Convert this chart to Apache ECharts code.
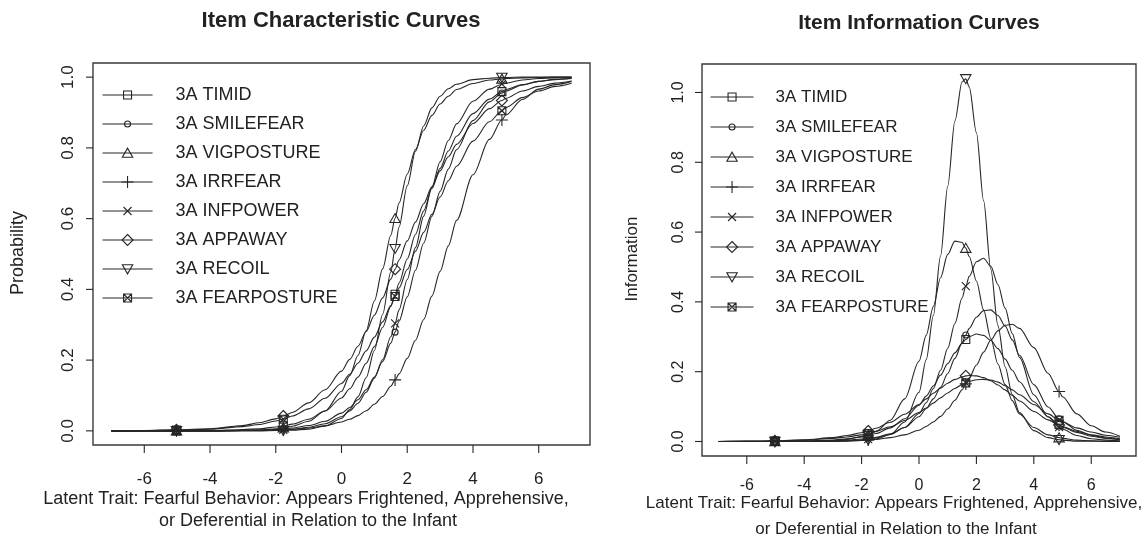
<!DOCTYPE html>
<html>
<head>
<meta charset="utf-8">
<script src="https://cdn.jsdelivr.net/npm/echarts@6/dist/echarts.min.js"></script>
<style>
html, body { margin: 0; padding: 0; background: #fff; }
#chart { width: 1147px; height: 535px; }
</style>
</head>
<body>
<div id="chart"></div>
<script>
// Latent trait values at which each curve is sampled
const theta = [-7, -6, -5.02, -4, -3, -2.5, -2, -1.77, -1.5, -1, -0.5, 0, 0.25, 0.5, 0.75, 1, 1.25, 1.5, 1.63, 1.75, 2, 2.25, 2.5, 2.75, 3, 3.25, 3.5, 4, 4.5, 4.88, 5, 5.5, 6, 6.5, 7];
// Trait values where the plotting symbols sit on every curve
const markerTheta = [-5.02, -1.77, 1.63, 4.88];

const itemNames = ['3A TIMID', '3A SMILEFEAR', '3A VIGPOSTURE', '3A IRRFEAR', '3A INFPOWER', '3A APPAWAY', '3A RECOIL', '3A FEARPOSTURE'];

const xTicks = [-6, -4, -2, 0, 2, 4, 6];
const yTicks = [0, 0.2, 0.4, 0.6, 0.8, 1.0];

// Item characteristic curves (probability of endorsement)
const iccTimid       = [0, 0, 0, 0.001, 0.004, 0.006, 0.011, 0.014, 0.019, 0.033, 0.056, 0.093, 0.119, 0.152, 0.191, 0.238, 0.292, 0.352, 0.386, 0.418, 0.486, 0.555, 0.622, 0.685, 0.742, 0.791, 0.833, 0.897, 0.938, 0.959, 0.965, 0.979, 0.988, 0.993, 0.996];
const iccSmilefear   = [0, 0, 0, 0, 0.001, 0.002, 0.004, 0.006, 0.008, 0.015, 0.027, 0.050, 0.066, 0.088, 0.116, 0.152, 0.196, 0.248, 0.279, 0.310, 0.379, 0.454, 0.531, 0.606, 0.677, 0.740, 0.795, 0.877, 0.930, 0.955, 0.961, 0.978, 0.988, 0.994, 0.997];
const iccVigposture  = [0, 0, 0, 0, 0.001, 0.003, 0.006, 0.009, 0.013, 0.027, 0.056, 0.112, 0.156, 0.213, 0.283, 0.367, 0.458, 0.553, 0.601, 0.644, 0.726, 0.795, 0.850, 0.892, 0.924, 0.946, 0.965, 0.982, 0.992, 0.995, 0.996, 0.998, 0.999, 1.000, 1.000];
const iccIrrfear     = [0, 0, 0, 0, 0.001, 0.001, 0.002, 0.003, 0.004, 0.008, 0.014, 0.025, 0.033, 0.043, 0.057, 0.075, 0.097, 0.126, 0.144, 0.161, 0.205, 0.256, 0.315, 0.381, 0.451, 0.523, 0.595, 0.724, 0.824, 0.879, 0.893, 0.937, 0.966, 0.979, 0.988];
const iccInfpower    = [0, 0, 0, 0, 0.001, 0.001, 0.002, 0.003, 0.005, 0.010, 0.020, 0.040, 0.056, 0.078, 0.109, 0.149, 0.201, 0.266, 0.304, 0.342, 0.428, 0.518, 0.607, 0.689, 0.761, 0.821, 0.868, 0.932, 0.966, 0.980, 0.983, 0.992, 0.996, 0.998, 0.999];
const iccAppaway     = [0, 0.001, 0.003, 0.006, 0.015, 0.023, 0.034, 0.042, 0.052, 0.079, 0.116, 0.169, 0.202, 0.239, 0.281, 0.327, 0.376, 0.429, 0.457, 0.483, 0.537, 0.590, 0.642, 0.690, 0.735, 0.775, 0.810, 0.869, 0.911, 0.934, 0.940, 0.961, 0.974, 0.983, 0.989];
const iccRecoil      = [0, 0, 0, 0, 0, 0, 0.001, 0.001, 0.002, 0.005, 0.014, 0.035, 0.060, 0.096, 0.150, 0.227, 0.329, 0.449, 0.515, 0.576, 0.693, 0.790, 0.862, 0.913, 0.946, 0.967, 0.980, 0.993, 0.997, 0.999, 0.999, 1.000, 1.000, 1.000, 1.000];
const iccFearposture = [0, 0.001, 0.002, 0.005, 0.012, 0.018, 0.028, 0.033, 0.042, 0.062, 0.092, 0.134, 0.160, 0.191, 0.226, 0.265, 0.308, 0.354, 0.380, 0.404, 0.456, 0.508, 0.561, 0.612, 0.661, 0.707, 0.748, 0.819, 0.874, 0.905, 0.914, 0.942, 0.961, 0.974, 0.983];

// Item information curves
const infoTimid       = [0, 0, 0, 0.001, 0.004, 0.008, 0.013, 0.017, 0.023, 0.039, 0.065, 0.104, 0.130, 0.159, 0.190, 0.223, 0.254, 0.281, 0.292, 0.300, 0.308, 0.304, 0.290, 0.266, 0.236, 0.204, 0.171, 0.114, 0.071, 0.049, 0.041, 0.026, 0.015, 0.009, 0.005];
const infoSmilefear   = [0, 0, 0, 0.001, 0.002, 0.004, 0.007, 0.009, 0.012, 0.022, 0.040, 0.071, 0.094, 0.122, 0.155, 0.195, 0.238, 0.282, 0.305, 0.324, 0.356, 0.375, 0.377, 0.361, 0.331, 0.291, 0.247, 0.163, 0.099, 0.065, 0.057, 0.032, 0.018, 0.010, 0.005];
const infoVigposture  = [0, 0, 0, 0.001, 0.003, 0.006, 0.014, 0.019, 0.029, 0.061, 0.122, 0.230, 0.304, 0.387, 0.469, 0.536, 0.574, 0.571, 0.554, 0.530, 0.460, 0.377, 0.295, 0.222, 0.163, 0.117, 0.079, 0.040, 0.019, 0.011, 0.009, 0.004, 0.002, 0.001, 0];
const infoIrrfear     = [0, 0, 0, 0, 0.001, 0.002, 0.003, 0.004, 0.006, 0.011, 0.019, 0.032, 0.043, 0.056, 0.072, 0.093, 0.118, 0.148, 0.165, 0.182, 0.219, 0.256, 0.290, 0.317, 0.333, 0.336, 0.324, 0.269, 0.195, 0.143, 0.128, 0.079, 0.045, 0.027, 0.015];
const infoInfpower    = [0, 0, 0, 0, 0.001, 0.002, 0.005, 0.007, 0.010, 0.020, 0.040, 0.080, 0.111, 0.152, 0.204, 0.267, 0.338, 0.411, 0.445, 0.473, 0.515, 0.525, 0.502, 0.450, 0.382, 0.309, 0.241, 0.134, 0.070, 0.041, 0.035, 0.017, 0.008, 0.004, 0.002];
const infoAppaway     = [0, 0.001, 0.002, 0.005, 0.011, 0.017, 0.025, 0.030, 0.038, 0.055, 0.078, 0.106, 0.122, 0.138, 0.153, 0.167, 0.178, 0.185, 0.188, 0.189, 0.188, 0.183, 0.174, 0.162, 0.148, 0.132, 0.116, 0.086, 0.062, 0.047, 0.042, 0.029, 0.019, 0.013, 0.008];
const infoRecoil      = [0, 0, 0, 0, 0, 0.001, 0.003, 0.004, 0.007, 0.020, 0.056, 0.141, 0.234, 0.361, 0.531, 0.731, 0.918, 1.030, 1.039, 1.016, 0.885, 0.690, 0.494, 0.332, 0.214, 0.134, 0.083, 0.031, 0.011, 0.005, 0.004, 0.001, 0.001, 0, 0];
const infoFearposture = [0, 0.001, 0.002, 0.004, 0.009, 0.013, 0.019, 0.023, 0.029, 0.042, 0.060, 0.083, 0.096, 0.110, 0.125, 0.139, 0.152, 0.163, 0.168, 0.172, 0.177, 0.178, 0.176, 0.170, 0.160, 0.148, 0.134, 0.106, 0.079, 0.061, 0.056, 0.039, 0.027, 0.018, 0.012];

const iccCurves  = [iccTimid, iccSmilefear, iccVigposture, iccIrrfear, iccInfpower, iccAppaway, iccRecoil, iccFearposture];
const infoCurves = [infoTimid, infoSmilefear, infoVigposture, infoIrrfear, infoInfpower, infoAppaway, infoRecoil, infoFearposture];

// Axis ranges of the two panels
const xRange = [-7.56, 7.56];
const yRangeIcc = [-0.04, 1.04];
const yRangeInfo = [-0.0416, 1.0816];

// Open plotting symbols drawn in a 12x12 box (leading moves fix the box size)
const BOX = 'M0,0M12,12';
const symbols = [
  'path://' + BOX + 'M2,2L10,2L10,10L2,10Z',                              // square
  'path://' + BOX + 'M6,3A3,3,0,1,1,6,9A3,3,0,1,1,6,3Z',                  // circle
  'path://' + BOX + 'M0.8,10.2L11.2,10.2L6,1.2Z',                         // triangle
  'path://' + BOX + 'M6,0L6,12M0,6L12,6',                                 // plus
  'path://' + BOX + 'M2,2L10,10M10,2L2,10',                               // cross
  'path://' + BOX + 'M6,0.5L11.5,6L6,11.5L0.5,6Z',                        // diamond
  'path://' + BOX + 'M0.8,1.8L11.2,1.8L6,10.8Z',                          // inverted triangle
  'path://' + BOX + 'M2,2L10,2L10,10L2,10ZM2,2L10,10M10,2L2,10'           // boxed cross
];

const INK = '#262626';
const BORDER = '#3a3a3a';
const FONT = 'Liberation Sans, Arial, Helvetica, sans-serif';

function curveSeries(idx, values, axisIdx) {
  return {
    type: 'line',
    name: itemNames[idx],
    xAxisIndex: axisIdx,
    yAxisIndex: axisIdx,
    data: theta.map((t, i) => markerTheta.includes(t)
      ? { value: [t, values[i]] }
      : { value: [t, values[i]], symbol: 'none' }),
    symbol: symbols[idx],
    symbolSize: 12,
    showSymbol: true,
    showAllSymbol: true,
    smooth: 0.3,
    smoothMonotone: 'x',
    clip: false,
    lineStyle: { color: INK, width: 1.1 },
    itemStyle: { color: 'rgba(0,0,0,0)', borderColor: INK, borderWidth: 1.1 },
    emphasis: { disabled: true },
    silent: true,
    animation: false
  };
}

const series = [];
iccCurves.forEach((v, i) => series.push(curveSeries(i, v, 0)));
infoCurves.forEach((v, i) => series.push(curveSeries(i, v, 1)));

function xAxisOf(gridIndex, margin, fontSize) {
  return {
    type: 'value', gridIndex, min: xRange[0], max: xRange[1], position: 'bottom',
    axisLine: { show: false, onZero: false },
    splitLine: { show: false },
    axisTick: { show: false },
    axisLabel: { customValues: xTicks, margin, fontSize, color: '#222', fontFamily: FONT }
  };
}
function yAxisOf(gridIndex, range, margin, fontSize) {
  return {
    type: 'value', gridIndex, min: range[0], max: range[1], position: 'left',
    axisLine: { show: false, onZero: false },
    splitLine: { show: false },
    axisTick: { show: false },
    axisLabel: { customValues: yTicks, margin, fontSize, rotate: 90, color: '#222', fontFamily: FONT,
                 formatter: v => v.toFixed(1) }
  };
}

function legendOf(left, top, lineLen, rowH, fontSize, gap) {
  return {
    orient: 'vertical', left, top, padding: 0,
    itemWidth: lineLen, itemHeight: 15, itemGap: 0,
    selectedMode: false,
    data: itemNames,
    textStyle: { fontSize, color: '#222', fontFamily: FONT, lineHeight: rowH, padding: [0, 0, 0, gap] },
    itemStyle: { color: 'rgba(0,0,0,0)', borderColor: INK, borderWidth: 1.1 },
    lineStyle: { color: INK, width: 1.1 }
  };
}

function label(text, x, y, size, opts) {
  return Object.assign({
    type: 'text', x, y, silent: true,
    style: { text, fill: '#222', font: (opts && opts.bold ? 'bold ' : '') + size + 'px ' + FONT,
             align: 'center', verticalAlign: 'middle' }
  }, opts && opts.rotation ? { rotation: opts.rotation } : {});
}

const textElements = [
  label('Item Characteristic Curves', 341, 21, 22, { bold: true }),
  label('Item Information Curves', 919, 23, 21, { bold: true }),
  label('Probability', 18, 253, 18, { rotation: Math.PI / 2 }),
  label('Information', 632, 259, 17, { rotation: Math.PI / 2 }),
  label('Latent Trait: Fearful Behavior: Appears Frightened, Apprehensive,', 306, 499, 18),
  label('or Deferential in Relation to the Infant', 308, 521, 18),
  label('Latent Trait: Fearful Behavior: Appears Frightened, Apprehensive,', 894, 503, 17),
  label('or Deferential in Relation to the Infant', 896, 529, 17)
];

const chart = echarts.init(document.getElementById('chart'), null, { renderer: 'canvas' });
chart.setOption({
  animation: false,
  backgroundColor: '#fff',
  grid: [
    { left: 93, top: 63, width: 497, height: 382, show: true, borderColor: BORDER, borderWidth: 1.4, backgroundColor: 'transparent' },
    { left: 702, top: 64, width: 434, height: 392, show: true, borderColor: BORDER, borderWidth: 1.4, backgroundColor: 'transparent' }
  ],
  xAxis: [xAxisOf(0, 26, 17), xAxisOf(1, 22, 16)],
  yAxis: [yAxisOf(0, yRangeIcc, 16, 17), yAxisOf(1, yRangeInfo, 15, 16)],
  legend: [legendOf(102, 80.5, 50, 29, 18, 18), legendOf(710, 82, 43, 30, 17, 17)],
  series,
  graphic: { elements: textElements }
});

// Outward tick marks on the bottom and left edges, placed through each panel's axes
function tickStyle() { return { stroke: INK, lineWidth: 1.1 }; }
const tickElements = [];
[[0, yRangeIcc], [1, yRangeInfo]].forEach(([g, yr]) => {
  xTicks.forEach(v => {
    const p = chart.convertToPixel({ gridIndex: g }, [v, yr[0]]);
    tickElements.push({ type: 'line', silent: true, z: 10,
      shape: { x1: p[0], y1: p[1], x2: p[0], y2: p[1] + 8 }, style: tickStyle() });
  });
  yTicks.forEach(v => {
    const p = chart.convertToPixel({ gridIndex: g }, [xRange[0], v]);
    tickElements.push({ type: 'line', silent: true, z: 10,
      shape: { x1: p[0] - 7, y1: p[1], x2: p[0], y2: p[1] }, style: tickStyle() });
  });
});
chart.setOption({ graphic: { elements: textElements.concat(tickElements) } });
</script>
</body>
</html>
